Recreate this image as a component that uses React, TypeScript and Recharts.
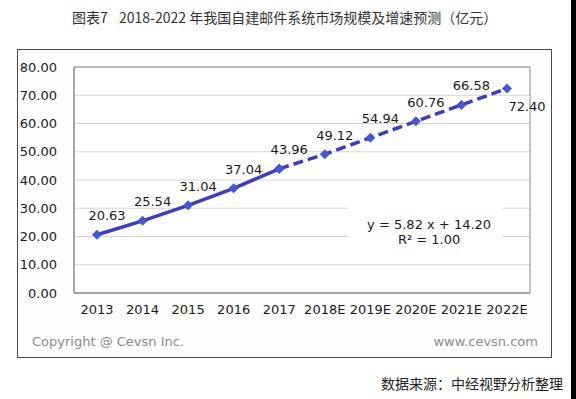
import React from 'react';
import { LineChart, Line, XAxis, YAxis, CartesianGrid, ReferenceArea, LabelList } from 'recharts';

const categories = ['2013', '2014', '2015', '2016', '2017', '2018E', '2019E', '2020E', '2021E', '2022E'];
const values = [20.63, 25.54, 31.04, 37.04, 43.96, 49.12, 54.94, 60.76, 66.58, 72.4];
const lastActualIndex = 4;
const yTicks = [0, 10, 20, 30, 40, 50, 60, 70, 80];
const boundaryTicks = [1, 2, 3, 4, 5, 6, 7, 8, 9];
const equationLines = ['y = 5.82 x + 14.20', 'R² = 1.00'];
const titleLead = '图表7';
const titleMain = '2018-2022 年我国自建邮件系统市场规模及增速预测（亿元）';
const copyrightText = 'Copyright @ Cevsn Inc.';
const siteText = 'www.cevsn.com';
const sourceText = '数据来源：中经视野分析整理';

const data = categories.map((c, i) => ({
  cat: c,
  pos: i + 0.5,
  actual: i <= lastActualIndex ? values[i] : null,
  forecast: i >= lastActualIndex ? values[i] : null,
}));

const FONT = '"DejaVu Sans", Verdana, sans-serif';
const CJK = '"Noto Sans CJK SC", "Noto Sans", sans-serif';
const LINE_COLOR = '#3b3bc6';
const DOT_COLOR = '#4557d6';

const Diamond = (props: any) => {
  const { cx, cy, value } = props;
  if (cx == null || cy == null || value == null || isNaN(cx) || isNaN(cy)) return null;
  const r = 5;
  return (
    <polygon
      points={`${cx},${cy - r} ${cx + r},${cy} ${cx},${cy + r} ${cx - r},${cy}`}
      fill={DOT_COLOR}
      stroke="none"
    />
  );
};

const makeLabel = (skipIndex: number) => (props: any) => {
  const { x, y, value, index } = props;
  if (value == null || index === skipIndex || x == null || y == null) return null;
  const last = index === values.length - 1;
  return (
    <text
      x={x + (last ? 20 : 10)}
      y={y + (last ? 18 : -19)}
      textAnchor="middle"
      dominantBaseline="central"
      fontFamily={FONT}
      fontSize={13}
      fill="#1a1a1a"
    >
      {Number(value).toFixed(2)}
    </text>
  );
};

const EquationLabel = (props: any) => {
  const vb = props.viewBox || {};
  const cx = vb.x + vb.width / 2 + 4;
  const cy = vb.y + vb.height / 2;
  return (
    <g>
      {equationLines.map((t, i) => (
        <text
          key={i}
          x={cx}
          y={cy + (i - (equationLines.length - 1) / 2) * 15}
          textAnchor="middle"
          dominantBaseline="central"
          fontFamily={FONT}
          fontSize={13}
          fill="#1a1a1a"
        >
          {t}
        </text>
      ))}
    </g>
  );
};

export default function App() {
  return (
    <div style={{ position: 'absolute', left: 0, top: 0, width: 576, height: 399, background: '#fff' }}>
      <svg width={576} height={399} style={{ position: 'absolute', left: 0, top: 0 }}>
        <text x={72} y={17} dominantBaseline="central" fontFamily={CJK} fontSize={14} fill="#333">
          {titleLead}
        </text>
        <text x={119} y={17} dominantBaseline="central" fontFamily={CJK} fontSize={14} fill="#333">
          {titleMain}
        </text>
        <rect x={17.5} y={49.5} width={534} height={308} fill="#fdfdfd" stroke="#4a4a4a" strokeWidth={1} />
        <text x={32} y={341} dominantBaseline="central" fontFamily={FONT} fontSize={13} fill="#8c8c8c">
          {copyrightText}
        </text>
        <text x={538} y={341} textAnchor="end" dominantBaseline="central" fontFamily={FONT} fontSize={13} fill="#8c8c8c">
          {siteText}
        </text>
        <text x={563} y={383} textAnchor="end" dominantBaseline="central" fontFamily={CJK} fontSize={14} fill="#222">
          {sourceText}
        </text>
        <rect x={571} y={0} width={5} height={399} fill="#000" />
      </svg>
      <div style={{ position: 'absolute', left: 0, top: 0 }}>
        <LineChart width={576} height={399} data={data} margin={{ top: 67, right: 46, bottom: 76, left: 14 }}>
          <CartesianGrid xAxisId="main" vertical={false} stroke="#d6d6d6" fill="#ffffff" />
          <XAxis
            xAxisId="main"
            dataKey="cat"
            interval={0}
            padding={{ left: 23, right: 23 }}
            tickLine={false}
            tickSize={0}
            tickMargin={12}
            axisLine={{ stroke: '#8a8a8a' }}
            tick={{ fill: '#1a1a1a', fontSize: 13, fontFamily: FONT }}
          />
          <XAxis
            xAxisId="grid"
            type="number"
            dataKey="pos"
            domain={[0, 10]}
            ticks={boundaryTicks}
            allowDataOverflow
            mirror
            height={0}
            axisLine={false}
            tick={false}
            tickLine={{ stroke: '#8a8a8a' }}
            tickSize={4}
          />
          <YAxis
            domain={[0, 80]}
            ticks={yTicks}
            interval={0}
            width={60}
            tickFormatter={(v: number) => v.toFixed(2)}
            tickLine={false}
            tickSize={0}
            tickMargin={17}
            axisLine={{ stroke: '#8a8a8a' }}
            tick={{ fill: '#1a1a1a', fontSize: 13, fontFamily: FONT }}
          />
          <ReferenceArea
            xAxisId="grid"
            x1={6}
            x2={9.4}
            y1={13}
            y2={30.5}
            fill="#ffffff"
            fillOpacity={1}
            stroke="none"
            label={<EquationLabel />}
          />
          <ReferenceArea
            xAxisId="grid"
            x1={0}
            x2={10}
            y1={0}
            y2={80}
            fill="none"
            stroke="#8a8a8a"
            strokeWidth={1}
          />
          <Line
            xAxisId="main"
            dataKey="actual"
            stroke={LINE_COLOR}
            strokeWidth={3.5}
            dot={<Diamond />}
            activeDot={false}
            isAnimationActive={false}
          >
            <LabelList dataKey="actual" content={makeLabel(-1)} />
          </Line>
          <Line
            xAxisId="main"
            dataKey="forecast"
            stroke={LINE_COLOR}
            strokeWidth={3.5}
            strokeDasharray="10 5"
            dot={<Diamond />}
            activeDot={false}
            isAnimationActive={false}
          >
            <LabelList dataKey="forecast" content={makeLabel(lastActualIndex)} />
          </Line>
        </LineChart>
      </div>
    </div>
  );
}
